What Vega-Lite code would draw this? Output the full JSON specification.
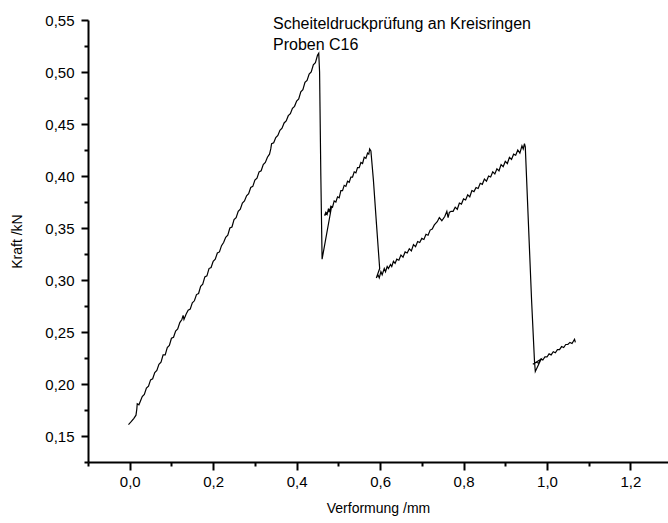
{
  "$schema": "https://vega.github.io/schema/vega-lite/v6.json",
  "width": 580,
  "height": 442,
  "autosize": {"type": "none"},
  "padding": {"left": 88, "top": 20, "right": 0, "bottom": 61},
  "background": "white",
  "title": {
    "text": ["Scheiteldruckprüfung an Kreisringen", "Proben C16"],
    "anchor": "start",
    "frame": "group",
    "dx": 185,
    "offset": -40,
    "fontSize": 16,
    "fontWeight": "normal",
    "font": "Liberation Sans",
    "lineHeight": 21,
    "color": "black"
  },
  "config": {
    "locale": {"number": {"decimal": ",", "thousands": ".", "grouping": [3], "currency": ["", " €"]}},
    "view": {"stroke": null},
    "axis": {"domainColor": "black", "tickColor": "black", "labelColor": "black", "titleColor": "black", "grid": false, "labelFont": "Liberation Sans", "titleFont": "Liberation Sans", "titleFontWeight": "normal", "domainWidth": 2, "tickWidth": 2}
  },
  "data": {"values": [
    {"i":0,"x":-0.003,"y":0.161},{"i":1,"x":0.004,"y":0.164},{"i":2,"x":0.010,"y":0.167},{"i":3,"x":0.015,"y":0.170},
    {"i":4,"x":0.017,"y":0.176},{"i":5,"x":0.018,"y":0.181},{"i":6,"x":0.022,"y":0.180},{"i":7,"x":0.025,"y":0.183},
    {"i":8,"x":0.030,"y":0.188},{"i":9,"x":0.035,"y":0.190},{"i":10,"x":0.040,"y":0.196},{"i":11,"x":0.045,"y":0.198},
    {"i":12,"x":0.050,"y":0.204},{"i":13,"x":0.055,"y":0.205},{"i":14,"x":0.060,"y":0.211},{"i":15,"x":0.065,"y":0.213},
    {"i":16,"x":0.070,"y":0.219},{"i":17,"x":0.075,"y":0.221},{"i":18,"x":0.080,"y":0.228},{"i":19,"x":0.085,"y":0.228},
    {"i":20,"x":0.090,"y":0.235},{"i":21,"x":0.095,"y":0.237},{"i":22,"x":0.100,"y":0.244},{"i":23,"x":0.105,"y":0.245},
    {"i":24,"x":0.110,"y":0.251},{"i":25,"x":0.115,"y":0.253},{"i":26,"x":0.120,"y":0.259},{"i":27,"x":0.125,"y":0.262},
    {"i":28,"x":0.128,"y":0.266},{"i":29,"x":0.130,"y":0.262},{"i":30,"x":0.135,"y":0.267},{"i":31,"x":0.140,"y":0.271},
    {"i":32,"x":0.145,"y":0.272},{"i":33,"x":0.150,"y":0.278},{"i":34,"x":0.155,"y":0.280},{"i":35,"x":0.160,"y":0.286},
    {"i":36,"x":0.165,"y":0.287},{"i":37,"x":0.170,"y":0.294},{"i":38,"x":0.175,"y":0.296},{"i":39,"x":0.180,"y":0.303},
    {"i":40,"x":0.185,"y":0.304},{"i":41,"x":0.190,"y":0.311},{"i":42,"x":0.195,"y":0.312},{"i":43,"x":0.200,"y":0.318},
    {"i":44,"x":0.205,"y":0.320},{"i":45,"x":0.210,"y":0.326},{"i":46,"x":0.215,"y":0.327},{"i":47,"x":0.220,"y":0.333},
    {"i":48,"x":0.225,"y":0.336},{"i":49,"x":0.230,"y":0.341},{"i":50,"x":0.235,"y":0.343},{"i":51,"x":0.240,"y":0.350},
    {"i":52,"x":0.245,"y":0.351},{"i":53,"x":0.250,"y":0.358},{"i":54,"x":0.255,"y":0.360},{"i":55,"x":0.260,"y":0.366},
    {"i":56,"x":0.265,"y":0.368},{"i":57,"x":0.270,"y":0.374},{"i":58,"x":0.275,"y":0.376},{"i":59,"x":0.280,"y":0.381},
    {"i":60,"x":0.285,"y":0.383},{"i":61,"x":0.290,"y":0.389},{"i":62,"x":0.295,"y":0.390},{"i":63,"x":0.300,"y":0.396},
    {"i":64,"x":0.305,"y":0.398},{"i":65,"x":0.310,"y":0.404},{"i":66,"x":0.315,"y":0.405},{"i":67,"x":0.320,"y":0.411},
    {"i":68,"x":0.325,"y":0.413},{"i":69,"x":0.330,"y":0.418},{"i":70,"x":0.335,"y":0.421},{"i":71,"x":0.338,"y":0.426},
    {"i":72,"x":0.340,"y":0.431},{"i":73,"x":0.345,"y":0.432},{"i":74,"x":0.350,"y":0.437},{"i":75,"x":0.355,"y":0.439},
    {"i":76,"x":0.360,"y":0.444},{"i":77,"x":0.365,"y":0.446},{"i":78,"x":0.370,"y":0.451},{"i":79,"x":0.375,"y":0.453},
    {"i":80,"x":0.380,"y":0.458},{"i":81,"x":0.385,"y":0.460},{"i":82,"x":0.390,"y":0.465},{"i":83,"x":0.395,"y":0.467},
    {"i":84,"x":0.400,"y":0.472},{"i":85,"x":0.405,"y":0.474},{"i":86,"x":0.410,"y":0.481},{"i":87,"x":0.415,"y":0.483},
    {"i":88,"x":0.420,"y":0.490},{"i":89,"x":0.425,"y":0.492},{"i":90,"x":0.430,"y":0.498},{"i":91,"x":0.435,"y":0.500},
    {"i":92,"x":0.440,"y":0.507},{"i":93,"x":0.445,"y":0.509},{"i":94,"x":0.450,"y":0.516},{"i":95,"x":0.453,"y":0.518},
    {"i":96,"x":0.455,"y":0.500},{"i":97,"x":0.458,"y":0.400},{"i":98,"x":0.461,"y":0.320},{"i":99,"x":0.483,"y":0.369},
    {"i":100,"x":0.467,"y":0.362},{"i":101,"x":0.470,"y":0.365},{"i":102,"x":0.473,"y":0.363},{"i":103,"x":0.476,"y":0.368},
    {"i":104,"x":0.479,"y":0.366},{"i":105,"x":0.482,"y":0.371},{"i":106,"x":0.486,"y":0.370},{"i":107,"x":0.490,"y":0.376},
    {"i":108,"x":0.494,"y":0.375},{"i":109,"x":0.498,"y":0.380},{"i":110,"x":0.502,"y":0.379},{"i":111,"x":0.506,"y":0.386},
    {"i":112,"x":0.510,"y":0.386},{"i":113,"x":0.514,"y":0.391},{"i":114,"x":0.518,"y":0.390},{"i":115,"x":0.522,"y":0.395},
    {"i":116,"x":0.526,"y":0.394},{"i":117,"x":0.530,"y":0.399},{"i":118,"x":0.534,"y":0.399},{"i":119,"x":0.538,"y":0.404},
    {"i":120,"x":0.542,"y":0.403},{"i":121,"x":0.546,"y":0.408},{"i":122,"x":0.550,"y":0.408},{"i":123,"x":0.554,"y":0.413},
    {"i":124,"x":0.558,"y":0.412},{"i":125,"x":0.562,"y":0.418},{"i":126,"x":0.566,"y":0.417},{"i":127,"x":0.570,"y":0.422},
    {"i":128,"x":0.573,"y":0.421},{"i":129,"x":0.575,"y":0.426},{"i":130,"x":0.578,"y":0.424},{"i":131,"x":0.584,"y":0.396},
    {"i":132,"x":0.5915,"y":0.353},{"i":133,"x":0.599,"y":0.311},{"i":134,"x":0.591,"y":0.302},{"i":135,"x":0.595,"y":0.305},
    {"i":136,"x":0.598,"y":0.302},{"i":137,"x":0.602,"y":0.308},{"i":138,"x":0.605,"y":0.305},{"i":139,"x":0.610,"y":0.311},
    {"i":140,"x":0.613,"y":0.308},{"i":141,"x":0.617,"y":0.313},{"i":142,"x":0.620,"y":0.311},{"i":143,"x":0.625,"y":0.315},
    {"i":144,"x":0.628,"y":0.313},{"i":145,"x":0.632,"y":0.318},{"i":146,"x":0.636,"y":0.316},{"i":147,"x":0.640,"y":0.320},
    {"i":148,"x":0.645,"y":0.319},{"i":149,"x":0.650,"y":0.324},{"i":150,"x":0.655,"y":0.322},{"i":151,"x":0.660,"y":0.327},
    {"i":152,"x":0.665,"y":0.326},{"i":153,"x":0.670,"y":0.330},{"i":154,"x":0.675,"y":0.328},{"i":155,"x":0.680,"y":0.334},
    {"i":156,"x":0.685,"y":0.332},{"i":157,"x":0.690,"y":0.337},{"i":158,"x":0.695,"y":0.336},{"i":159,"x":0.700,"y":0.340},
    {"i":160,"x":0.705,"y":0.339},{"i":161,"x":0.710,"y":0.344},{"i":162,"x":0.715,"y":0.343},{"i":163,"x":0.720,"y":0.348},
    {"i":164,"x":0.725,"y":0.349},{"i":165,"x":0.730,"y":0.353},{"i":166,"x":0.737,"y":0.356},{"i":167,"x":0.742,"y":0.360},
    {"i":168,"x":0.748,"y":0.357},{"i":169,"x":0.755,"y":0.361},{"i":170,"x":0.760,"y":0.366},{"i":171,"x":0.763,"y":0.360},
    {"i":172,"x":0.766,"y":0.365},{"i":173,"x":0.770,"y":0.366},{"i":174,"x":0.775,"y":0.366},{"i":175,"x":0.780,"y":0.370},
    {"i":176,"x":0.785,"y":0.368},{"i":177,"x":0.790,"y":0.374},{"i":178,"x":0.795,"y":0.373},{"i":179,"x":0.800,"y":0.378},
    {"i":180,"x":0.805,"y":0.377},{"i":181,"x":0.810,"y":0.382},{"i":182,"x":0.815,"y":0.380},{"i":183,"x":0.820,"y":0.386},
    {"i":184,"x":0.825,"y":0.385},{"i":185,"x":0.830,"y":0.389},{"i":186,"x":0.835,"y":0.388},{"i":187,"x":0.840,"y":0.393},
    {"i":188,"x":0.845,"y":0.392},{"i":189,"x":0.850,"y":0.397},{"i":190,"x":0.855,"y":0.395},{"i":191,"x":0.860,"y":0.400},
    {"i":192,"x":0.865,"y":0.399},{"i":193,"x":0.870,"y":0.404},{"i":194,"x":0.875,"y":0.402},{"i":195,"x":0.880,"y":0.407},
    {"i":196,"x":0.885,"y":0.405},{"i":197,"x":0.890,"y":0.411},{"i":198,"x":0.895,"y":0.409},{"i":199,"x":0.900,"y":0.414},
    {"i":200,"x":0.905,"y":0.412},{"i":201,"x":0.910,"y":0.418},{"i":202,"x":0.915,"y":0.416},{"i":203,"x":0.920,"y":0.421},
    {"i":204,"x":0.925,"y":0.420},{"i":205,"x":0.930,"y":0.425},{"i":206,"x":0.935,"y":0.422},{"i":207,"x":0.940,"y":0.429},
    {"i":208,"x":0.943,"y":0.426},{"i":209,"x":0.946,"y":0.431},{"i":210,"x":0.948,"y":0.428},{"i":211,"x":0.963,"y":0.281},
    {"i":212,"x":0.970,"y":0.222},{"i":213,"x":0.972,"y":0.212},{"i":214,"x":0.986,"y":0.224},{"i":215,"x":0.966,"y":0.219},
    {"i":216,"x":0.975,"y":0.221},{"i":217,"x":0.980,"y":0.220},{"i":218,"x":0.985,"y":0.224},{"i":219,"x":0.990,"y":0.223},
    {"i":220,"x":0.995,"y":0.226},{"i":221,"x":1.000,"y":0.226},{"i":222,"x":1.005,"y":0.229},{"i":223,"x":1.010,"y":0.228},
    {"i":224,"x":1.015,"y":0.231},{"i":225,"x":1.020,"y":0.230},{"i":226,"x":1.025,"y":0.233},{"i":227,"x":1.030,"y":0.233},
    {"i":228,"x":1.035,"y":0.236},{"i":229,"x":1.040,"y":0.235},{"i":230,"x":1.045,"y":0.238},{"i":231,"x":1.050,"y":0.238},
    {"i":232,"x":1.055,"y":0.240},{"i":233,"x":1.060,"y":0.239},{"i":234,"x":1.066,"y":0.243},{"i":235,"x":1.068,"y":0.240}
  ]},
  "layer": [
    {
      "mark": {"type": "line", "color": "black", "strokeWidth": 1.2, "clip": true},
      "encoding": {
        "x": {"field": "x", "type": "quantitative", "scale": {"domain": [-0.1, 1.29], "nice": false, "zero": false},
              "axis": {"orient": "bottom", "values": [0, 0.2, 0.4, 0.6, 0.8, 1.0, 1.2], "format": ".1f", "tickSize": 8, "labelFontSize": 15, "labelPadding": 4, "title": "Verformung /mm", "titleFontSize": 14, "titlePadding": 12}},
        "y": {"field": "y", "type": "quantitative", "scale": {"domain": [0.125, 0.55], "nice": false, "zero": false},
              "axis": {"orient": "left", "values": [0.15, 0.2, 0.25, 0.3, 0.35, 0.4, 0.45, 0.5, 0.55], "format": ".2f", "tickSize": 7, "labelFontSize": 15, "labelPadding": 7, "title": "Kraft /kN", "titleFontSize": 14, "titlePadding": 20}},
        "order": {"field": "i", "type": "quantitative"}
      }
    },
    {
      "mark": {"type": "line", "opacity": 0},
      "encoding": {
        "x": {"field": "x", "type": "quantitative",
              "axis": {"orient": "bottom", "values": [-0.1, 0.1, 0.3, 0.5, 0.7, 0.9, 1.1], "tickSize": 4, "labels": false, "domain": false, "title": null}},
        "y": {"field": "y", "type": "quantitative",
              "axis": {"orient": "left", "values": [0.125, 0.175, 0.225, 0.275, 0.325, 0.375, 0.425, 0.475, 0.525], "tickSize": 4, "labels": false, "domain": false, "title": null}},
        "order": {"field": "i", "type": "quantitative"}
      }
    }
  ],
  "resolve": {"axis": {"x": "independent", "y": "independent"}}
}
